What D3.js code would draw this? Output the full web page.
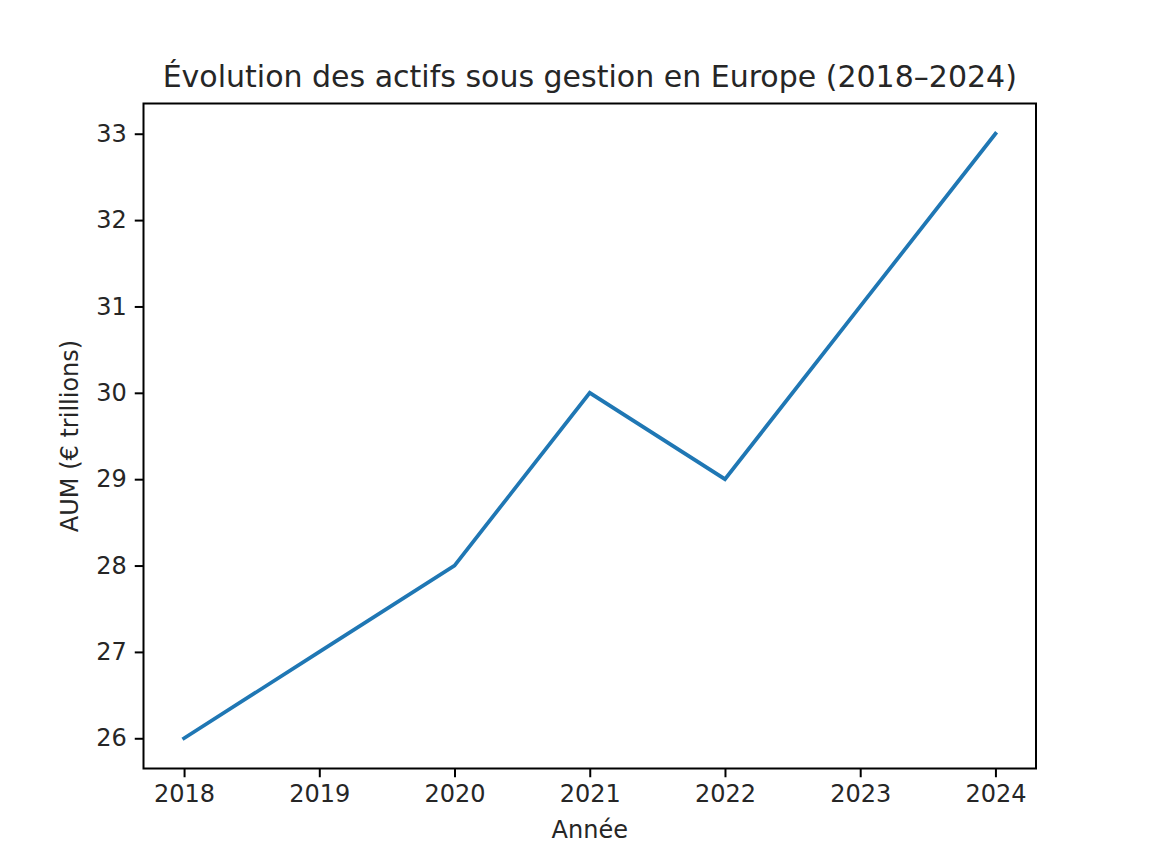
<!DOCTYPE html>
<html>
<head>
<meta charset="utf-8">
<script src="https://cdn.jsdelivr.net/npm/d3@7"></script>
<style>
  body { margin: 0; background: #fff; }
  text { font-family: "DejaVu Sans", sans-serif; fill: #262626; }
</style>
</head>
<body>
<svg id="chart" width="1151" height="864"></svg>
<script>
/* Data */
var years = [2018, 2019, 2020, 2021, 2022, 2023, 2024];
var aum = [26, 27, 28, 30, 29, 31, 33];
var yTicks = [26, 27, 28, 29, 30, 31, 32, 33];

var titleText = 'Évolution des actifs sous gestion en Europe (2018–2024)';
var xLabel = 'Année';
var yLabel = 'AUM (€ trillions)';

/* Layout (matplotlib default subplot box) */
var plotLeft = 143.5, plotRight = 1036, plotTop = 103.5, plotBottom = 768.5;
var svg = d3.select('#chart');

/* Scales, 5% margin like matplotlib */
var xScale = d3.scaleLinear()
  .domain([2017.7, 2024.3])
  .range([plotLeft, plotRight]);

var yScale = d3.scaleLinear()
  .domain([25.65, 33.35])
  .range([plotBottom, plotTop]);

/* Axes */
var xAxis = d3.axisBottom(xScale)
  .tickValues(years)
  .tickFormat(d3.format('d'))
  .tickSize(8.75)
  .tickPadding(8);

var yAxis = d3.axisLeft(yScale)
  .tickValues(yTicks)
  .tickFormat(d3.format('d'))
  .tickSize(8.75)
  .tickPadding(8);

var gx = svg.append('g')
  .attr('transform', 'translate(0,' + plotBottom + ')')
  .call(xAxis);

var gy = svg.append('g')
  .attr('transform', 'translate(' + plotLeft + ',0)')
  .call(yAxis);

[gx, gy].forEach(function (g) {
  g.select('.domain').remove();
  g.selectAll('.tick line').attr('stroke', '#000').attr('stroke-width', 2);
  g.selectAll('.tick text')
    .attr('font-family', '"DejaVu Sans", sans-serif')
    .attr('font-size', 24)
    .attr('fill', '#262626');
});

/* Line */
var line = d3.line()
  .x(function (d, i) { return xScale(years[i]); })
  .y(function (d) { return yScale(d); });

svg.append('path')
  .datum(aum)
  .attr('d', line)
  .attr('fill', 'none')
  .attr('stroke', '#1f77b4')
  .attr('stroke-width', 3.75)
  .attr('stroke-linecap', 'square');

/* Frame */
svg.append('rect')
  .attr('x', plotLeft)
  .attr('y', plotTop)
  .attr('width', plotRight - plotLeft)
  .attr('height', plotBottom - plotTop)
  .attr('fill', 'none')
  .attr('stroke', '#000')
  .attr('stroke-width', 2);

/* Title and labels */
svg.append('text')
  .attr('x', (plotLeft + plotRight) / 2)
  .attr('y', 87)
  .attr('text-anchor', 'middle')
  .attr('font-size', 30)
  .text(titleText);

svg.append('text')
  .attr('x', (plotLeft + plotRight) / 2)
  .attr('y', 838)
  .attr('text-anchor', 'middle')
  .attr('font-size', 24)
  .text(xLabel);

svg.append('text')
  .attr('transform', 'translate(78,' + ((plotTop + plotBottom) / 2) + ') rotate(-90)')
  .attr('text-anchor', 'middle')
  .attr('font-size', 24)
  .text(yLabel);
</script>
</body>
</html>
